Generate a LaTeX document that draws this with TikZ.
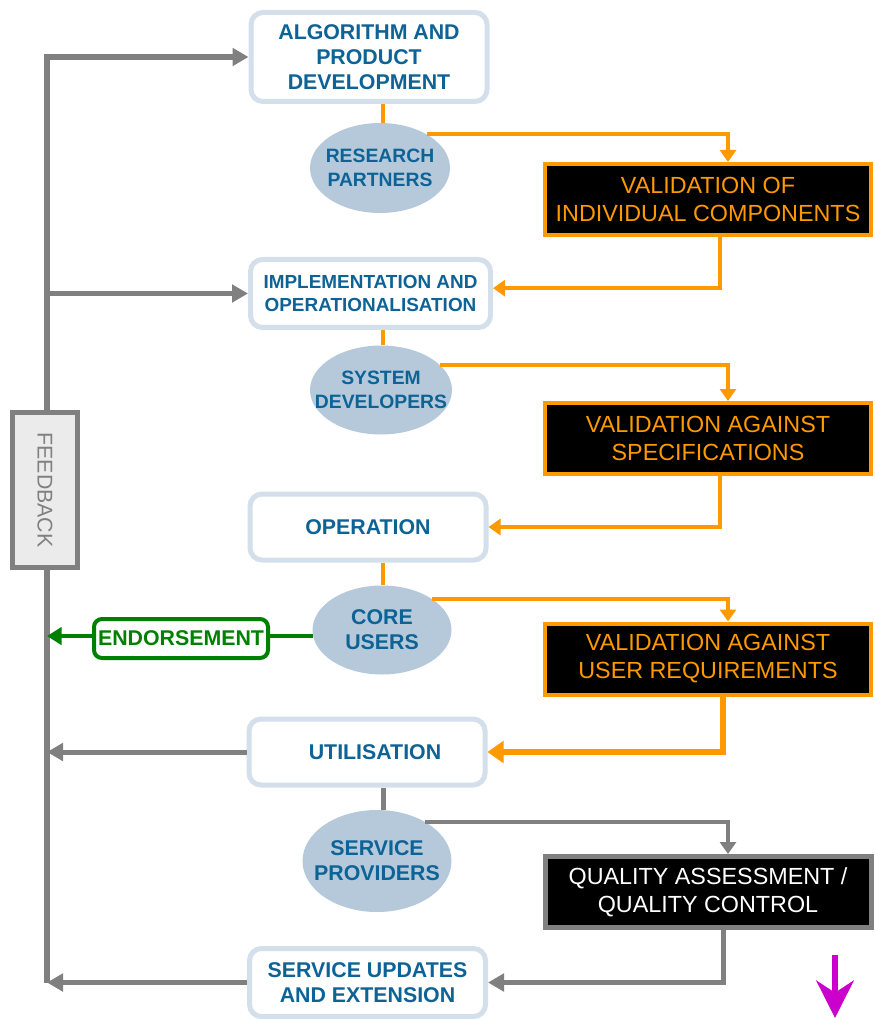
\documentclass[tikz,border=0pt]{standalone}
\usepackage{fontspec}
\setmainfont{Liberation Sans}
\usetikzlibrary{arrows.meta,positioning,calc,shapes.geometric}

\definecolor{txtblue}{RGB}{14,99,150}
\definecolor{boxline}{RGB}{211,223,235}
\definecolor{ellfill}{RGB}{181,201,219}
\definecolor{valorange}{RGB}{255,153,0}
\definecolor{fbgray}{RGB}{128,128,128}
\definecolor{fbfill}{RGB}{235,235,235}
\definecolor{endgreen}{RGB}{0,128,0}
\definecolor{downmag}{RGB}{204,0,204}

\tikzset{
  stage/.style={draw=boxline,line width=3.75pt,fill=white,rounded corners=9pt,
    minimum width=177pt,minimum height=49.5pt,inner sep=0pt,align=center,
    text=txtblue,font=\bfseries\fontsize{16}{18.75}\selectfont},
  actor/.style={ellipse,fill=ellfill,inner xsep=-16pt,inner ysep=-8pt,align=center,
    text=txtblue,font=\bfseries\fontsize{14.5}{18}\selectfont},
  check/.style={draw=valorange,line width=3pt,fill=black,minimum width=244.5pt,
    minimum height=53.25pt,inner sep=0pt,align=center,text=valorange,
    font=\fontsize{17.5}{21}\selectfont},
  orangeline/.style={draw=valorange,line width=3.3pt},
  grayline/.style={draw=fbgray,line width=3.75pt},
  orangehead/.style={-{Triangle[length=9pt,width=12pt]}},
  grayhead/.style={-{Triangle[length=12pt,width=13pt]}},
}

\begin{document}
\begin{tikzpicture}[x=0.75pt,y=-0.75pt]
  \useasboundingbox (0,0) rectangle (874,1019);

  % main stages
  \node[stage,minimum height=66.75pt] (algdev) at (369,57) {ALGORITHM AND\\PRODUCT\\DEVELOPMENT};
  \node[stage,minimum width=180pt,minimum height=51pt,
        font=\bfseries\fontsize{14.2}{17}\selectfont] (implop) at (370.5,293.5) {IMPLEMENTATION AND\\OPERATIONALISATION};
  \node[stage] (oper) at (368,527) {OPERATION};
  \node[stage] (util) at (367,752) {\hspace*{12pt}UTILISATION};
  \node[stage,minimum height=51pt] (upd) at (367.5,982.5) {SERVICE UPDATES\\AND EXTENSION};

  % who is involved
  \node[actor,minimum width=105pt,minimum height=67.5pt] (rp) at (380,168) {RESEARCH\\PARTNERS};
  \node[actor,minimum width=106.5pt,minimum height=66.75pt] (sd) at (381,390) {SYSTEM\\DEVELOPERS};
  \node[actor,minimum width=104.25pt,minimum height=66.75pt,
        font=\bfseries\fontsize{16}{18.75}\selectfont] (cu) at (382,630) {CORE\\USERS};
  \node[actor,minimum width=111.75pt,minimum height=76.5pt,
        font=\bfseries\fontsize{16}{18.75}\selectfont] (sp) at (377,861) {SERVICE\\PROVIDERS};

  % validation steps
  \node[check] (valcomp) at (708,199.5) {VALIDATION OF\\INDIVIDUAL COMPONENTS};
  \node[check] (valspec) at (708,438.5) {VALIDATION AGAINST\\SPECIFICATIONS};
  \node[check] (valuser) at (708,659) {VALIDATION AGAINST\\USER REQUIREMENTS};
  \node[check,draw=fbgray,line width=3.75pt,text=white] (qaqc) at (708,892) {QUALITY ASSESSMENT /\\QUALITY CONTROL};

  % stage to actor
  \draw[orangeline] (rp.north -| 383,0) -- (algdev.south -| 383,0);
  \draw[orangeline] (sd.north -| 383,0) -- (implop.south -| 383,0);
  \draw[orangeline] (cu.north -| 383,0) -- (oper.south -| 383,0);
  \draw[grayline] (sp.north -| 383,0) -- (util.south -| 383,0);

  % validation loops
  \draw[orangeline,orangehead] (rp.36) -| ([xshift=15pt]valcomp.north);
  \draw[orangeline,orangehead] ([xshift=9pt]valcomp.south) |- ([yshift=4pt]implop.east);
  \draw[orangeline,orangehead] (sd.23) -| ([xshift=15pt]valspec.north);
  \draw[orangeline,orangehead] ([xshift=9pt]valspec.south) |- (oper.east);
  \draw[orangeline,orangehead] (cu.32) -| ([xshift=15pt]valuser.north);
  \draw[orangeline,line width=4.5pt,-{Triangle[length=12pt,width=16pt]}] ([xshift=11.25pt]valuser.south) |- (util.east);
  \draw[grayline,line width=3.5pt,orangehead] (sp.39) -| ([xshift=15pt]qaqc.north);
  \draw[grayline,grayhead] ([xshift=11.25pt]qaqc.south) |- (upd.east);

  % feedback loop
  \coordinate (fbtop) at (47,57);
  \coordinate (fbbot) at (47,982.5);
  \draw[grayline,line width=4.2pt,grayhead] (fbbot) -- (fbtop) -- (algdev.west);
  \draw[grayline,grayhead] (fbtop |- implop.west) -- (implop.west);
  \draw[grayline,grayhead] (util.west) -- (fbtop |- util.west);
  \draw[grayline,grayhead] (upd.west) -- (fbbot);
  \node[draw=fbgray,line width=3.75pt,fill=fbfill,rotate=-90,minimum width=116.25pt,
        minimum height=48.75pt,inner sep=0pt,text=fbgray,
        font=\fontsize{16}{18}\selectfont] (fb) at (45,490) {FEEDBACK};

  % endorsement
  \draw[draw=endgreen,line width=3.5pt,-{Triangle[length=11pt,width=13pt]}] (cu.185) -- (fbtop |- cu.185);
  \node[draw=endgreen,line width=3pt,fill=white,rounded corners=6pt,minimum width=130.5pt,
        minimum height=29.25pt,inner sep=0pt,text=endgreen,
        font=\bfseries\fontsize{16}{18}\selectfont] (endorse) at (181,638.5) {ENDORSEMENT};

  % down arrow
  \coordinate (downtop) at (835,955);
  \coordinate (downend) at (835,1018);
  \draw[draw=downmag,line width=4.5pt,-{Stealth[length=28pt,width=28pt,inset=9pt]}] (downtop) -- (downend);
\end{tikzpicture}
\end{document}
